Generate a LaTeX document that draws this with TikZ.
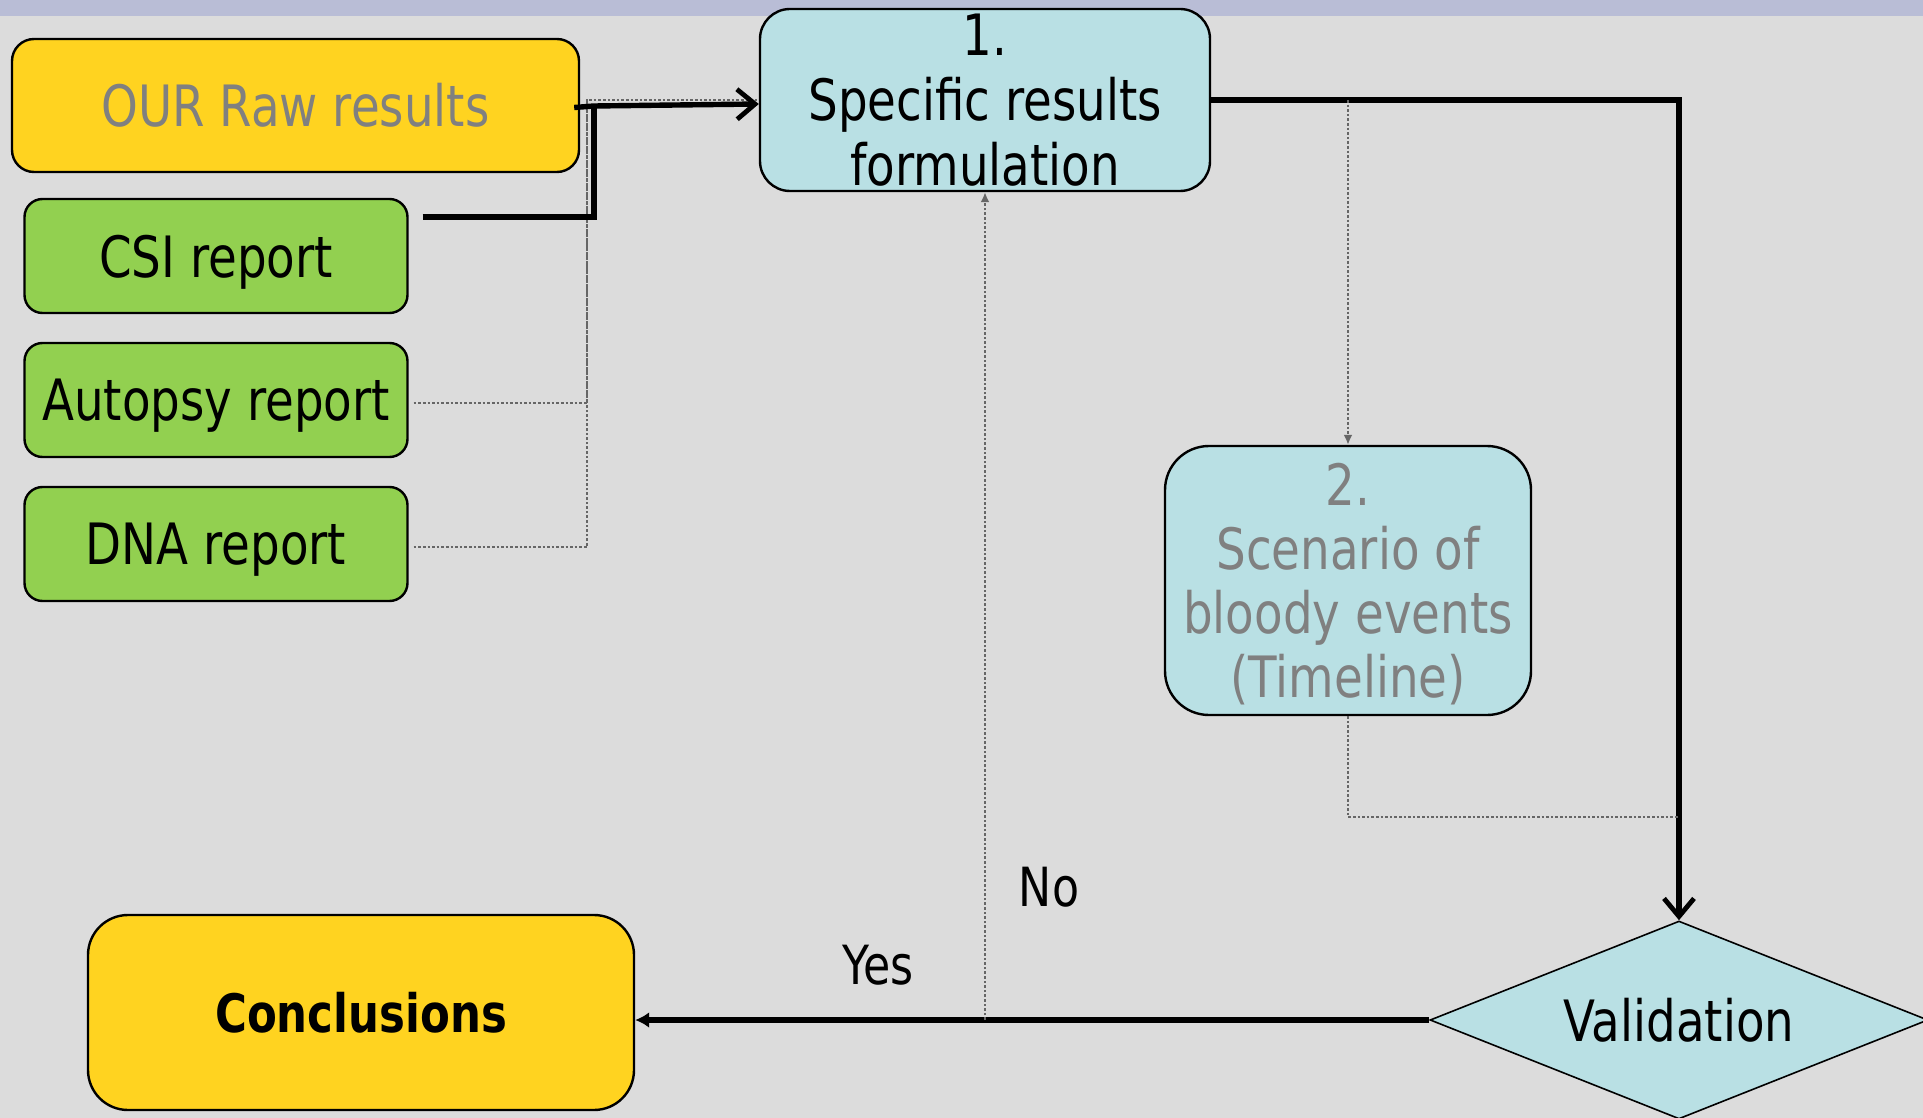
\documentclass[tikz,border=0pt]{standalone}
\usepackage{fontspec}
\setmainfont{DejaVu Sans}[FakeStretch=0.82]
\usetikzlibrary{shapes.geometric,arrows.meta,calc}
\definecolor{bg}{HTML}{DCDCDC}
\definecolor{band}{HTML}{B9BDD6}
\definecolor{yel}{HTML}{FFD320}
\definecolor{grn}{HTML}{92D050}
\definecolor{cyn}{HTML}{B9E0E4}
\definecolor{txtgray}{HTML}{808080}
\newcommand{\lowerby}[2]{\raisebox{-#1}[\height][\depth]{#2}}
\begin{document}
\begin{tikzpicture}[x=0.5pt,y=-0.5pt,
  box/.style={draw=black,line width=1.2pt,rounded corners=#1,inner sep=0pt,align=center,
    font=\fontsize{28.5pt}{31.5pt}\selectfont},
  box/.default=10pt,
  thk/.style={line width=2.7pt,black},
  dot/.style={line width=1.3pt,draw=black!60,densely dotted},
  barb/.style={-{Straight Barb[length=9pt,width=15pt,line width=2.4pt]}},
  small/.style={-{Latex[length=5pt,width=4.5pt]}},
  lbl/.style={inner sep=0pt,font=\fontsize{27pt}{30pt}\selectfont}
]
\useasboundingbox (0,0) rectangle (1923,1118);
\fill[bg] (0,0) rectangle (1923,1118);
\fill[band] (0,0) rectangle (1923,16);

\node[box=11pt,fill=yel,text=txtgray,minimum width=283.5pt,minimum height=66.5pt] (our) at (295.5,105.5) {OUR Raw results};
\node[box=9pt,fill=grn,minimum width=191.5pt,minimum height=57pt] (csi) at (216,256) {\lowerby{3pt}{CSI report}};
\node[box=9pt,fill=grn,minimum width=191.5pt,minimum height=57pt] (aut) at (216,400) {\lowerby{3pt}{Autopsy report}};
\node[box=9pt,fill=grn,minimum width=191.5pt,minimum height=57pt] (dna) at (216,544) {\lowerby{3pt}{DNA report}};
\node[box=15pt,fill=cyn,minimum width=225pt,minimum height=91pt,
  font=\fontsize{28.5pt}{32.5pt}\selectfont] (b1) at (985,100)
  {1.\\Specific results\\formulation};
\node[box=22pt,fill=cyn,text=txtgray,minimum width=183pt,minimum height=134.5pt,
  font=\fontsize{28.5pt}{32pt}\selectfont] (b2) at (1348,580.5)
  {\lowerby{4pt}{\begin{tabular}{@{}c@{}}2.\\Scenario of\\bloody events\\(Timeline)\end{tabular}}};
\node[box=20pt,fill=yel,minimum width=273pt,minimum height=97.5pt,
  font=\fontsize{26.5pt}{30pt}\selectfont\bfseries] (con) at (361,1012.5) {Conclusions};
\node[diamond,aspect=2.515,draw=black,line width=0.8pt,fill=cyn,inner sep=0pt,
  minimum width=249pt,minimum height=99pt,font=\fontsize{28.5pt}{31.5pt}\selectfont] (val) at (1679,1020) {Validation};

\node[lbl] (no) at (1049,887) {No};
\node[lbl] (yes) at (878,965) {Yes};

\coordinate (dj) at (587,100);
\coordinate (j) at (594,106);
\coordinate (m) at (1679,817);

% dotted inputs
\draw[dot] ([xshift=2.5pt,yshift=-1.5pt]aut.east) -| (dj) -- (b1.west);
\draw[dot] ([xshift=2.5pt,yshift=-1.5pt]dna.east) -| (dj);
% thick inputs
\draw[thk] ([xshift=7pt,yshift=19.5pt]csi.east) -| (j);
\draw[thk,barb] ([xshift=-3pt,yshift=-1pt]our.east) -- (j) -- ([yshift=-2pt]b1.west);
% box1 to validation
\draw[thk,barb] (b1.east) -| (val.north);
% box1 to box2 dotted
\draw[dot,small] (b2.north |- b1.east) -- (b2.north);
\draw[dot] (b2.south) |- (m);
% validation to conclusions
\draw[thk,-{Latex[length=7pt,width=8pt]}] (val.west) -- (val.west -| con.east);
% No loop
\draw[dot,small] (b1.south |- val.west) -- (b1.south);
\end{tikzpicture}
\end{document}
